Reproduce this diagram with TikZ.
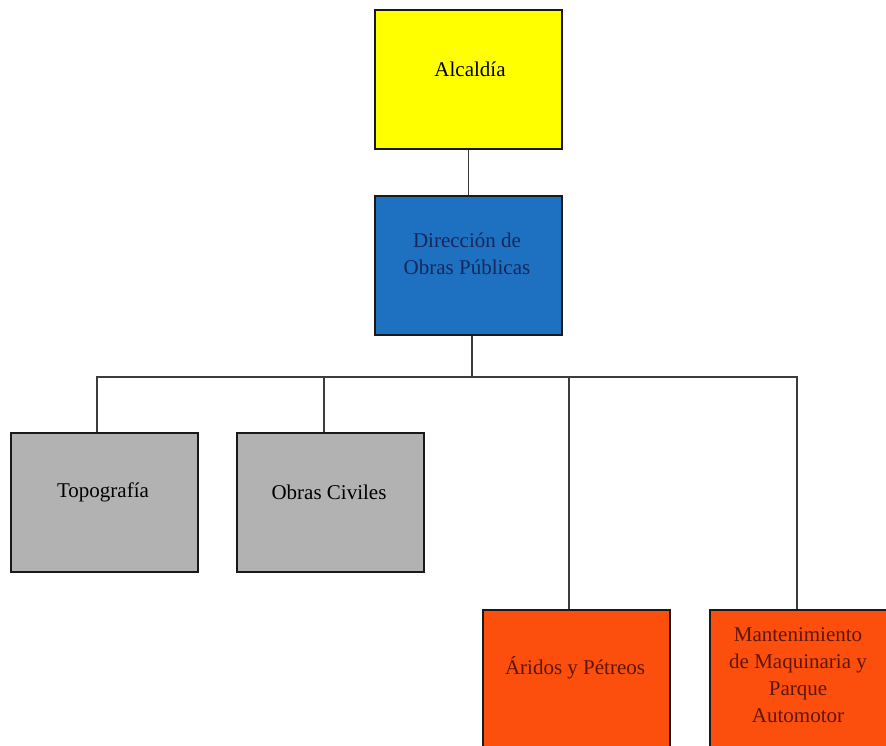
\documentclass[tikz,border=0pt]{standalone}
\usepackage{fontspec}
\setmainfont{Liberation Serif}
\definecolor{alcyellow}{RGB}{255,255,0}
\definecolor{dirblue}{RGB}{30,112,192}
\definecolor{dirtext}{RGB}{22,40,92}
\definecolor{unitgray}{RGB}{178,178,178}
\definecolor{unitorange}{RGB}{252,78,12}
\definecolor{orgtext}{RGB}{95,22,10}
\definecolor{linegray}{RGB}{60,60,60}
\tikzset{
  orgbox/.style={draw=black!90, line width=2pt, minimum width=187pt, minimum height=139pt, inner sep=0pt, anchor=north west},
  orglabel/.style={font=\fontsize{21}{27}\selectfont, align=center, inner sep=0pt},
  link/.style={draw=linegray, line width=1.1pt}
}
\begin{document}
\begin{tikzpicture}[x=1pt,y=-1pt]
\useasboundingbox (0,0) rectangle (886,745);
% boxes
\node[orgbox, fill=alcyellow] (alc) at (374,9) {};
\node[orgbox, fill=dirblue] (dir) at (374,195) {};
\node[orgbox, fill=unitgray] (topo) at (10,432) {};
\node[orgbox, fill=unitgray] (civ) at (236,432) {};
\node[orgbox, fill=unitorange, minimum height=150pt] (ari) at (482,609) {};
\node[orgbox, fill=unitorange, minimum height=150pt] (mant) at (709,609) {};
% texts
\node[orglabel] (alct) at (470,69) {Alcaldía};
\node[orglabel, text=dirtext] (dirt) at (467,254) {Dirección de\\Obras Públicas};
\node[orglabel] (topot) at (103,492) {Topografía};
\node[orglabel] (civt) at (329,492) {Obras Civiles};
\node[orglabel, text=orgtext] (arit) at (575,668) {Áridos y Pétreos};
\node[orglabel, text=orgtext] (mantt) at (798,675) {Mantenimiento\\de Maquinaria y\\Parque\\Automotor};
% connectors
\coordinate (bus) at (472,377);
\draw[link] (alc.south) -- (dir.north);
\draw[link] (dir.south -| bus) -- (bus);
\draw[link] (topo.north -| 97,0) |- (bus) -| (mant.north -| 797,0);
\draw[link] (civ.north -| 324,0) -- (bus -| 324,0);
\draw[link] (ari.north -| 569,0) -- (bus -| 569,0);
\end{tikzpicture}
\end{document}
